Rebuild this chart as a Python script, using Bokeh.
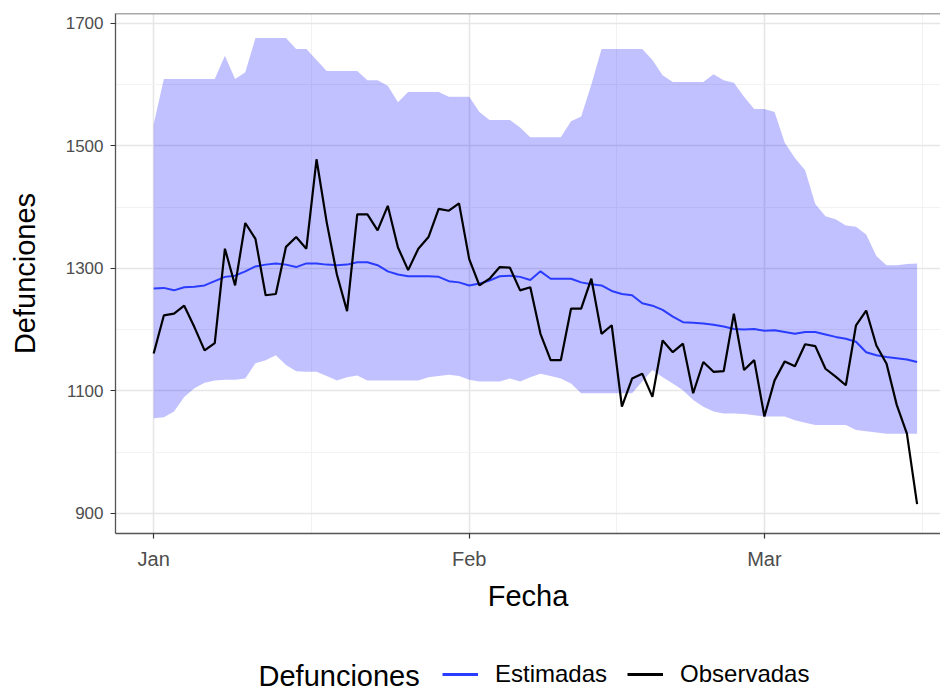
import pandas as pd
from bokeh.plotting import figure
from bokeh.layouts import column
from bokeh.models import (ColumnDataSource, FixedTicker, DatetimeTickFormatter, Legend,
                          LegendItem, Label, Span, Range1d)
from bokeh.embed import file_html
from bokeh.resources import INLINE

# ---------------- data ----------------
start_date = "2020-01-01"
end_date = "2020-03-16"

observadas = [1161, 1223, 1226, 1239, 1204, 1166, 1178, 1332, 1272, 1374,
              1348, 1256, 1258, 1335, 1351, 1332, 1478, 1375, 1290, 1230,
              1388, 1388, 1362, 1402, 1334, 1297, 1332, 1351, 1397, 1394,
              1406, 1315, 1272, 1283, 1302, 1301, 1264, 1269, 1193, 1150,
              1150, 1234, 1234, 1283, 1193, 1207, 1074, 1120, 1128, 1090,
              1182, 1163, 1177, 1096, 1147, 1131, 1132, 1226, 1134, 1150,
              1058, 1117, 1148, 1140, 1176, 1173, 1136, 1123, 1109, 1207,
              1231, 1174, 1144, 1077, 1030, 915]

estimadas = [1267, 1268, 1264, 1269, 1270, 1272, 1279, 1286, 1288, 1295,
             1303, 1306, 1308, 1306, 1302, 1308, 1308, 1306, 1305, 1306,
             1310, 1310, 1305, 1295, 1290, 1287, 1287, 1287, 1286, 1279,
             1277, 1272, 1275, 1280, 1287, 1288, 1286, 1281, 1295, 1283,
             1283, 1283, 1277, 1274, 1272, 1263, 1258, 1256, 1243, 1239,
             1232, 1221, 1212, 1211, 1210, 1208, 1205, 1201, 1200, 1201,
             1198, 1199, 1196, 1193, 1196, 1196, 1192, 1188, 1185, 1180,
             1163, 1158, 1155, 1153, 1151, 1147]

superior = [1535, 1609, 1609, 1609, 1609, 1609, 1609, 1647, 1609, 1620,
            1676, 1676, 1676, 1676, 1658, 1658, 1640, 1622, 1622, 1622,
            1622, 1607, 1607, 1598, 1571, 1588, 1588, 1588, 1588, 1580,
            1580, 1580, 1555, 1542, 1542, 1542, 1530, 1514, 1514, 1514,
            1514, 1540, 1548, 1600, 1658, 1658, 1658, 1658, 1658, 1640,
            1615, 1604, 1604, 1604, 1604, 1617, 1607, 1603, 1580, 1560,
            1560, 1555, 1505, 1480, 1460, 1405, 1385, 1380, 1370, 1368,
            1355, 1320, 1305, 1305, 1307, 1308]

inferior = [1055, 1057, 1066, 1090, 1104, 1113, 1117, 1118, 1118, 1120,
            1145, 1150, 1158, 1142, 1132, 1131, 1131, 1124, 1117, 1122,
            1125, 1117, 1117, 1117, 1117, 1117, 1117, 1122, 1124, 1126,
            1124, 1118, 1115, 1115, 1115, 1120, 1115, 1122, 1128, 1124,
            1120, 1112, 1096, 1096, 1096, 1096, 1096, 1096, 1115, 1134,
            1122, 1112, 1101, 1085, 1074, 1066, 1063, 1063, 1062, 1060,
            1058, 1058, 1058, 1052, 1048, 1044, 1044, 1044, 1044, 1036,
            1034, 1032, 1030, 1030, 1030, 1030]

x_major = ["2020-01-01", "2020-02-01", "2020-03-01"]
x_minor = ["2020-01-16 12:00", "2020-02-15 12:00", "2020-03-16 12:00"]
y_major = [900, 1100, 1300, 1500, 1700]
y_minor = [1000, 1200, 1400, 1600]

legend_title = "Defunciones"
legend_labels = ["Estimadas", "Observadas"]
legend_columns = ["est", "obs"]
legend_colors = ["#2A3CFF", "black"]

fechas = pd.date_range(start_date, end_date, freq="D")
src = ColumnDataSource(dict(fecha=fechas, obs=observadas, est=estimadas,
                            lo=inferior, hi=superior))


def ms(s):
    return pd.Timestamp(s).value // 10**6


FONT = "Liberation Sans"
W = 940
H1 = 615
H2 = 75
LEFT = 115

t0 = pd.Timestamp(start_date)
p = figure(width=W, height=H1, x_axis_type="datetime",
           output_backend="svg", toolbar_location=None,
           x_range=Range1d(t0 - pd.Timedelta(hours=90), t0 + pd.Timedelta(hours=77.3 * 24)),
           y_range=Range1d(867, 1716),
           min_border_left=LEFT, min_border_right=0, min_border_top=13,
           min_border_bottom=82)

p.background_fill_color = "white"
p.outline_line_color = None

# band and lines
p.varea(x="fecha", y1="lo", y2="hi", source=src, fill_color="#0000FF", fill_alpha=0.245)
r_est = p.line(x="fecha", y="est", source=src, line_color=legend_colors[0], line_width=2)
r_obs = p.line(x="fecha", y="obs", source=src, line_color=legend_colors[1], line_width=2.2)

# top border
p.add_layout(Span(location=1716, dimension="width", line_color="#555555", line_width=1.3))

# axes
p.xaxis.ticker = FixedTicker(ticks=[ms(d) for d in x_major],
                             minor_ticks=[ms(d) for d in x_minor])
p.xaxis.formatter = DatetimeTickFormatter(days="%b", months="%b", years="%b",
                                          hours="%b", hourmin="%b")
p.yaxis.ticker = FixedTicker(ticks=y_major, minor_ticks=y_minor)

for ax in (p.xaxis[0], p.yaxis[0]):
    ax.axis_line_color = "#555555"
    ax.axis_line_width = 1.3
    ax.major_tick_line_color = "#333333"
    ax.major_tick_line_width = 1.2
    ax.major_tick_in = 0
    ax.major_tick_out = 5
    ax.minor_tick_line_color = None
    ax.major_label_text_font = FONT
    ax.major_label_text_color = "#4D4D4D"
    ax.axis_label_text_font = FONT
    ax.axis_label_text_font_size = "29px"
    ax.axis_label_text_font_style = "normal"
    ax.axis_label_text_color = "black"

p.xaxis.major_label_text_font_size = "20px"
p.yaxis.major_label_text_font_size = "17px"
p.xaxis.axis_label = "Fecha"
p.yaxis.axis_label = "Defunciones"
p.xaxis.major_label_standoff = 9
p.xaxis.axis_label_standoff = 7
p.yaxis.major_label_standoff = 7
p.yaxis.axis_label_standoff = 22

# grid
for g in (p.xgrid[0], p.ygrid[0]):
    g.grid_line_color = "#E6E6E6"
    g.grid_line_width = 1.6
    g.minor_grid_line_color = "#F0F0F0"
    g.minor_grid_line_width = 0.9

# ---------------- legend strip (frame aligned with the main plot) ----------------
p2 = figure(width=W, height=H2, output_backend="svg", toolbar_location=None,
            x_range=Range1d(LEFT, W), y_range=Range1d(0, H2),
            x_axis_location=None, y_axis_location=None, min_border=0)
p2.outline_line_color = None
p2.grid.visible = False

keys = [p2.line(x="fecha", y=col, source=src, line_color=c, line_width=3, visible=False)
        for col, c in zip(legend_columns, legend_colors)]
legend = Legend(items=[LegendItem(label=l, renderers=[k]) for l, k in zip(legend_labels, keys)],
                orientation="horizontal", location=(442 - LEFT, 2),
                border_line_color=None, background_fill_alpha=0,
                glyph_width=36, glyph_height=24, label_standoff=17, spacing=20,
                padding=0, margin=0, label_text_font=FONT,
                label_text_font_size="24px", label_text_color="black")
p2.add_layout(legend, "center")
p2.add_layout(Label(x=258, y=15, text=legend_title, text_font=FONT,
                    text_font_size="29px", text_baseline="middle",
                    text_align="left", text_color="black"))

open("out.html", "w").write(file_html(column(p, p2), INLINE))
